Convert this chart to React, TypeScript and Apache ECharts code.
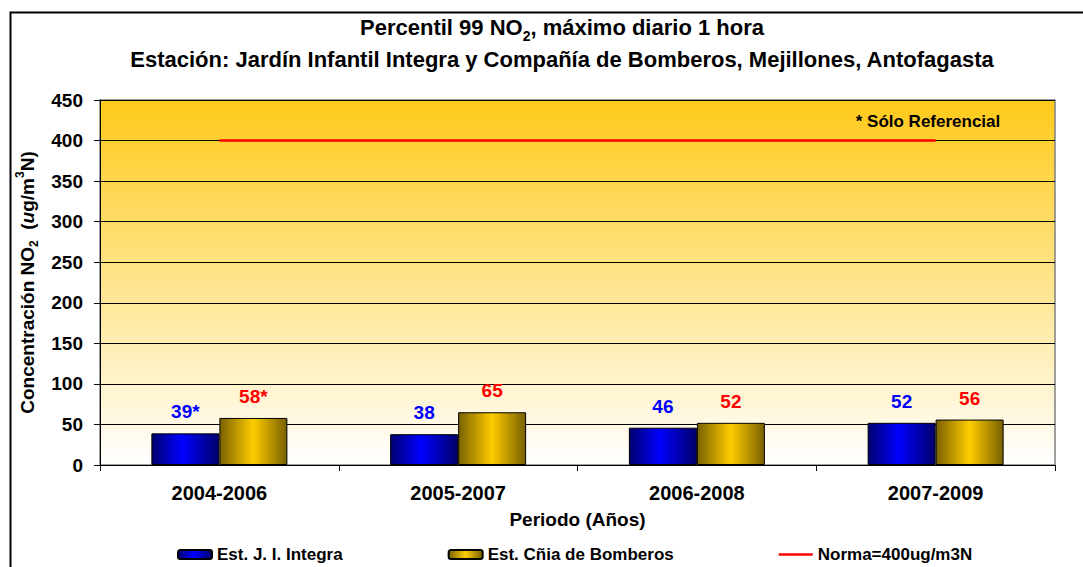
import React, { useEffect, useRef } from "react";
import * as echarts from "echarts";

const categories = ["2004-2006", "2005-2007", "2006-2008", "2007-2009"];
const integraValues = [39, 38, 46, 52];
const integraLabels = ["39*", "38", "46", "52"];
const bomberosValues = [58, 65, 52, 56];
const bomberosLabels = ["58*", "65", "52", "56"];
const normaValues = [400, 400, 400, 400];
const seriesNames = ["Est. J. I. Integra", "Est. Cñia de Bomberos", "Norma=400ug/m3N"];
const yMin = 0;
const yMax = 450;
const yInterval = 50;

const FONT = 'Arial, "Liberation Sans", Helvetica, sans-serif';

export default function App() {
  const ref = useRef<HTMLDivElement>(null);

  useEffect(() => {
    if (!ref.current) return;
    const chart = echarts.init(ref.current, undefined, { renderer: "svg" });

    const blueGrad = {
      type: "linear", x: 0, y: 0, x2: 1, y2: 0,
      colorStops: [
        { offset: 0, color: "#00006E" },
        { offset: 0.45, color: "#0000FF" },
        { offset: 1, color: "#00006A" },
      ],
    };
    const goldGrad = {
      type: "linear", x: 0, y: 0, x2: 1, y2: 0,
      colorStops: [
        { offset: 0, color: "#7A6200" },
        { offset: 0.5, color: "#FFCC00" },
        { offset: 1, color: "#786000" },
      ],
    };

    const option: any = {
      animation: false,
      backgroundColor: "#FFFFFF",
      title: {
        text:
          "{a|Percentil 99 NO}{s|2}{a|, máximo diario 1 hora}\n{a|Estación: Jardín Infantil Integra y Compañía de Bomberos, Mejillones, Antofagasta}",
        left: 557,
        top: 6,
        textAlign: "center",
        textStyle: {
          rich: {
            a: { fontSize: 22, fontWeight: "bold", fontFamily: FONT, color: "#000", lineHeight: 32 },
            s: { fontSize: 14, fontWeight: "bold", fontFamily: FONT, color: "#000", lineHeight: 21, verticalAlign: "bottom" },
          },
        },
      },
      graphic: [
        {
          type: "rect",
          left: 8,
          top: 10,
          shape: { width: 1100, height: 620 },
          style: { fill: "none", stroke: "#000", lineWidth: 2 },
          silent: true,
          z: 100,
        },
        {
          type: "text",
          x: 928,
          y: 121,
          style: {
            text: "* Sólo Referencial",
            fontSize: 17,
            fontWeight: "bold",
            fontFamily: FONT,
            fill: "#000",
            align: "center",
            verticalAlign: "middle",
          },
          z: 100,
        },
      ],
      legend: {
        left: 172,
        top: 541,
        itemWidth: 34,
        itemHeight: 9,
        itemGap: 105,
        data: [
          { name: seriesNames[0] },
          { name: seriesNames[1] },
          { name: seriesNames[2], icon: "path://M0,0 L100,0 L100,8 L0,8 Z" },
        ],
        textStyle: { fontSize: 17, fontWeight: "bold", fontFamily: FONT, color: "#000" },
      },
      grid: {
        left: 100,
        right: 28,
        top: 100,
        bottom: 102,
        show: true,
        borderColor: "#808080",
        borderWidth: 1.5,
        backgroundColor: {
          type: "linear", x: 0, y: 0, x2: 0, y2: 1,
          colorStops: [
            { offset: 0, color: "#FFCA1A" },
            { offset: 1, color: "#FFFFFF" },
          ],
        },
      },
      xAxis: {
        type: "category",
        data: categories,
        name: "Periodo (Años)",
        nameLocation: "middle",
        nameGap: 45,
        nameTextStyle: { fontSize: 19, fontWeight: "bold", fontFamily: FONT, color: "#000" },
        axisLine: { lineStyle: { color: "#000", width: 1 } },
        axisTick: { show: true, interval: 0, length: 6, lineStyle: { color: "#000" } },
        axisLabel: { fontSize: 20, fontWeight: "bold", fontFamily: FONT, color: "#000", margin: 18, interval: 0 },
      },
      yAxis: {
        type: "value",
        min: yMin,
        max: yMax,
        interval: yInterval,
        name:
          "{b|Concentración NO}{sub|2}{b|  (}{i|u}{b|g/m}{sup|3}{b|N)}",
        nameLocation: "middle",
        nameRotate: 90,
        nameGap: 55,
        nameTextStyle: {
          rich: {
            b: { fontSize: 19, fontWeight: "bold", fontFamily: FONT, color: "#000", lineHeight: 26 },
            i: { fontSize: 19, fontWeight: "bold", fontStyle: "italic", fontFamily: FONT, color: "#000", lineHeight: 26 },
            sub: { fontSize: 12, fontWeight: "bold", fontFamily: FONT, color: "#000", lineHeight: 16, verticalAlign: "bottom" },
            sup: { fontSize: 12, fontWeight: "bold", fontFamily: FONT, color: "#000", lineHeight: 16, verticalAlign: "top" },
          },
        },
        axisLine: { show: true, lineStyle: { color: "#000", width: 1 } },
        axisTick: { show: true, length: 6, lineStyle: { color: "#000" } },
        axisLabel: { fontSize: 19, fontWeight: "bold", fontFamily: FONT, color: "#000", margin: 17 },
        splitLine: { show: true, lineStyle: { color: "#000", width: 1 } },
      },
      series: [
        {
          name: seriesNames[0],
          type: "bar",
          data: integraValues,
          barWidth: 68,
          barGap: "0%",
          itemStyle: { color: blueGrad, borderColor: "#000", borderWidth: 1 },
          label: {
            show: true,
            position: "top",
            distance: 12,
            formatter: (p: any) => integraLabels[p.dataIndex],
            fontSize: 19,
            fontWeight: "bold",
            fontFamily: FONT,
            color: "#0000FF",
          },
          z: 3,
        },
        {
          name: seriesNames[1],
          type: "bar",
          data: bomberosValues,
          barWidth: 68,
          barGap: "0%",
          itemStyle: { color: goldGrad, borderColor: "#000", borderWidth: 1 },
          label: {
            show: true,
            position: "top",
            distance: 12,
            formatter: (p: any) => bomberosLabels[p.dataIndex],
            fontSize: 19,
            fontWeight: "bold",
            fontFamily: FONT,
            color: "#FF0000",
          },
          z: 3,
        },
        {
          name: seriesNames[2],
          type: "line",
          data: normaValues,
          symbol: "none",
          showSymbol: false,
          lineStyle: { color: "#FF0000", width: 2.5 },
          itemStyle: { color: "#FF0000" },
          z: 4,
        },
      ],
    };

    chart.setOption(option);
    return () => {
      chart.dispose();
    };
  }, []);

  return (
    <div
      ref={ref}
      style={{ position: "absolute", left: 0, top: 0, width: 1083, height: 567, background: "#fff" }}
    />
  );
}
